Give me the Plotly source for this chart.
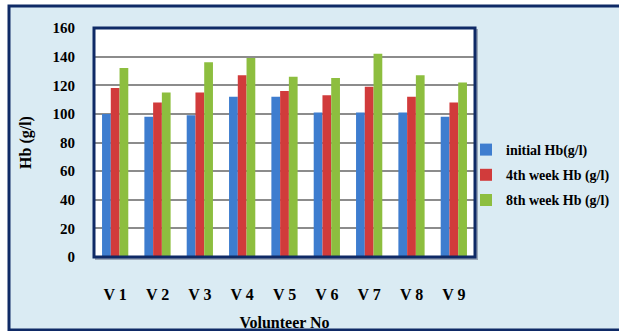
import plotly.graph_objects as go

categories = ["V 1", "V 2", "V 3", "V 4", "V 5", "V 6", "V 7", "V 8", "V 9"]
initial_hb = [100, 98, 99, 112, 112, 101, 101, 101, 98]
week4_hb = [118, 108, 115, 127, 116, 113, 119, 112, 108]
week8_hb = [132, 115, 136, 139, 126, 125, 142, 127, 122]
series_names = ["initial Hb(g/l)", "4th week Hb (g/l)", "8th week Hb (g/l)"]
series_colors = ["#3E7DCF", "#D13B3B", "#8DBE3F"]
y_ticks = [0, 20, 40, 60, 80, 100, 120, 140, 160]

NAVY = "#0F2A66"
SERIF = "Liberation Serif, Times New Roman, serif"

fig = go.Figure()
for i, (name, vals, col) in enumerate(zip(series_names, [initial_hb, week4_hb, week8_hb], series_colors)):
    fig.add_trace(go.Bar(
        x=categories, y=vals, name=f"<b>{name}</b>", marker_color=col,
        marker_line_width=0, legendgroup=str(i),
    ))

W, H = 619, 331
L, R, T, B = 94, 144, 28, 74
pw = W - L - R
ph = H - T - B

def px_x(x):
    return (x - L) / pw

def px_y(y):
    return (H - B - y) / ph

fig.update_layout(
    width=W, height=H,
    margin=dict(l=L, r=R, t=T, b=B, autoexpand=False),
    paper_bgcolor="white",
    plot_bgcolor="white",
    barmode="group",
    bargap=0.38,
    bargroupgap=0,
    font=dict(family=SERIF, color="black"),
    showlegend=True,
    legend=dict(
        x=px_x(466), y=px_y(134), xanchor="left", yanchor="top",
        bgcolor="rgba(0,0,0,0)", tracegroupgap=4,
        font=dict(family=SERIF, size=14, color="black"),
        itemwidth=30,
    ),
    xaxis=dict(
        tickvals=categories, ticktext=[f"<b>{c}</b>" for c in categories],
        tickfont=dict(family=SERIF, size=16, color="black"),
        ticks="outside", ticklen=23, tickcolor="rgba(0,0,0,0)",
        showgrid=False, zeroline=False, showline=False,
        title=dict(text="<b>Volunteer No</b>", font=dict(family=SERIF, size=16, color="black"), standoff=16),
        fixedrange=True,
    ),
    yaxis=dict(
        range=[0, 160], tickvals=y_ticks, ticktext=[f"<b>{v}</b>" for v in y_ticks],
        tickfont=dict(family=SERIF, size=15, color="black"),
        ticks="outside", ticklen=15, tickcolor="rgba(0,0,0,0)",
        showgrid=True, gridcolor="#8C8C8C", gridwidth=1.5,
        zeroline=False, showline=False,
        title=dict(text="<b>Hb (g/l)</b>", font=dict(family=SERIF, size=16, color="black"), standoff=16),
        fixedrange=True,
    ),
    shapes=[
        # outer light-blue frame
        dict(type="rect", xref="paper", yref="paper", layer="below",
             x0=px_x(9), x1=px_x(625), y0=px_y(330), y1=px_y(6),
             fillcolor="#DAEBF3", line=dict(color=NAVY, width=3)),
        # plot area shadow
        dict(type="rect", xref="paper", yref="paper", layer="below",
             x0=px_x(95), x1=px_x(478), y0=px_y(260), y1=px_y(29),
             fillcolor="#9AA7B8", line=dict(width=0)),
        # plot area white background
        dict(type="rect", xref="paper", yref="paper", layer="below",
             x0=0, x1=1, y0=0, y1=1,
             fillcolor="white", line=dict(width=0)),
        # plot area border
        dict(type="rect", xref="paper", yref="paper", layer="above",
             x0=0, x1=1, y0=0, y1=1,
             line=dict(color=NAVY, width=3)),
    ],
)

fig.write_html("out.html")
